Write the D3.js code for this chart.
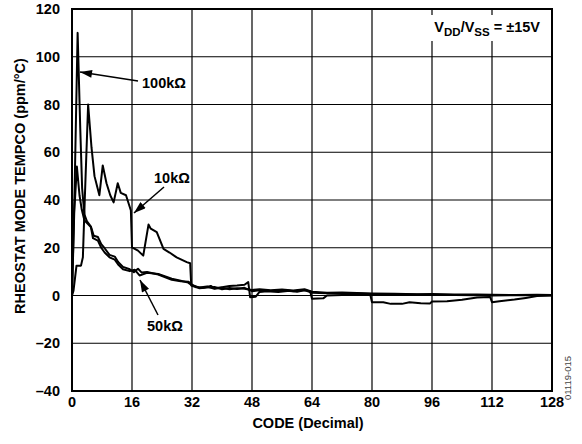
<!DOCTYPE html>
<html>
<head>
<meta charset="utf-8">
<script src="https://cdn.jsdelivr.net/npm/d3@7"></script>
<style>
  body { margin: 0; background: #fff; }
  svg { display: block; font-family: "Liberation Sans", Arial, sans-serif; }
</style>
</head>
<body>
<div id="chart"></div>
<script>
// data: [code, tempco ppm/°C]
const xTicks = [0, 16, 32, 48, 64, 80, 96, 112, 128];
const yTicks = [-40, -20, 0, 20, 40, 60, 80, 100, 120];

const r10k = [[0,0],[0.4,2],[1.2,12.5],[2.4,12.5],[2.9,16],[3.4,40],[4.3,80],[5.2,62],[6.0,50],[7.3,42],[8.2,54.5],[9.2,47],[10.2,42],[11.1,39],[12.2,47],[13,43],[14.4,42],[15.7,35.6],[16,20.2],[17.6,18.8],[19,16.7],[20.4,29.7],[21,28],[22.6,26.5],[24.4,19.5],[26,18],[27.9,16],[30.6,14],[31.5,13.5],[31.8,4.2],[33,3.5],[35,3.2],[37,4],[38,3],[40,3.5],[42,4],[44,4.2],[46,4.5],[47,5.6],[47.5,-0.7],[49,-0.5],[50,1.5],[52,1.8],[55,1.5],[58,2.0],[60,1.6],[62,2.2],[63.5,1.8],[64,-1.4],[67,-1.2],[68,0],[72,0.2],[76,0.4],[79.5,0.6],[80,-2.8],[83,-2.8],[85,-3.5],[88,-3.5],[90,-2.8],[93,-3.2],[95.5,-3.3],[96,-2.5],[100,-2.4],[104,-1.8],[108,-0.8],[111.5,-0.6],[112,-2.8],[114,-2.4],[118,-1.7],[121,-1],[124,-0.2],[128,0]];

const r100k = [[0,0],[0.7,45],[1.5,110],[2.2,70],[2.7,45],[3.3,34],[4,31],[5,29],[5.6,24],[6.9,23],[7.8,20],[8.7,18],[10,16],[11.4,15],[12.3,13],[13.6,11],[15.4,10.2],[16.7,10.8],[18,8.4],[20,9.5],[23,9],[26.6,7],[29,6.2],[31,5.4],[32,4.2],[34,3.4],[36,3.8],[38,2.8],[40,3.2],[42,2.6],[44,3],[46,2.8],[48,2.3],[50,2.6],[53,2.2],[56,2.5],[59,2.1],[62,2.6],[64,1.6],[68,1.2],[72,1.3],[76,1.0],[80,0.8],[86,0.7],[92,0.5],[96,0.6],[102,0.4],[108,0.4],[112,0.3],[118,0.2],[124,0.3],[128,0.2]];

const r50k = [[0,0],[0.6,35],[1.3,54],[2,42],[2.6,36],[3.3,31.5],[4.2,30],[5.1,28.6],[5.8,25],[6.9,24.5],[7.8,21.5],[8.7,19.8],[10,17],[11.4,16.3],[12.3,14],[13.6,12],[15.4,11],[16.5,9.8],[17.6,11.2],[18.6,9.6],[20,9.8],[23,8.8],[26.6,6.6],[29,6],[31,5.8],[32,4.6],[34,3],[36,3.3],[38,3.6],[40,2.6],[42,3.1],[44,2.7],[46,3.2],[48,1.8],[50,2.2],[53,1.9],[56,2.1],[59,1.8],[62,2.3],[64,1.1],[68,0.9],[72,1.0],[76,0.8],[80,0.6],[86,0.5],[92,0.4],[96,0.3],[102,0.2],[108,0.1],[112,0.0],[118,0.1],[124,0.2],[128,0.1]];

const margin = { top: 9, right: 30, bottom: 53, left: 72 };
const W = 582, H = 444;
const width = W - margin.left - margin.right;
const height = H - margin.top - margin.bottom;

const svg = d3.select("#chart").append("svg")
    .attr("width", W).attr("height", H);

svg.append("defs").append("marker")
    .attr("id", "arr")
    .attr("viewBox", "0 0 12 8")
    .attr("refX", 12).attr("refY", 4)
    .attr("markerWidth", 13).attr("markerHeight", 8)
    .attr("markerUnits", "userSpaceOnUse")
    .attr("orient", "auto")
  .append("path").attr("d", "M0,0 L12,4 L0,8 Z").attr("fill", "#000");

const g = svg.append("g").attr("transform", `translate(${margin.left},${margin.top})`);

const x = d3.scaleLinear().domain([0, 128]).range([0, width]);
const y = d3.scaleLinear().domain([-40, 120]).range([height, 0]);

// grid
g.append("g").selectAll("line").data(xTicks).join("line")
    .attr("x1", d => x(d)).attr("x2", d => x(d))
    .attr("y1", 0).attr("y2", height)
    .attr("stroke", "#000").attr("stroke-width", 1.2);
g.append("g").selectAll("line").data(yTicks).join("line")
    .attr("x1", 0).attr("x2", width)
    .attr("y1", d => y(d)).attr("y2", d => y(d))
    .attr("stroke", "#000").attr("stroke-width", 1.2);

// tick labels
g.append("g").selectAll("text").data(yTicks).join("text")
    .attr("x", -12).attr("y", d => y(d)).attr("dy", "0.36em")
    .attr("text-anchor", "end")
    .attr("font-size", 14.5).attr("font-weight", "bold")
    .text(d => d < 0 ? "\u2013" + Math.abs(d) : d);
g.append("g").selectAll("text").data(xTicks).join("text")
    .attr("x", d => x(d)).attr("y", height + 11).attr("dy", "0.36em")
    .attr("text-anchor", "middle")
    .attr("font-size", 14.5).attr("font-weight", "bold")
    .text(d => d);

// axis titles
svg.append("text")
    .attr("x", 308).attr("y", 428)
    .attr("text-anchor", "middle")
    .attr("font-size", 14.5).attr("font-weight", "bold")
    .text("CODE (Decimal)");
svg.append("text")
    .attr("transform", "translate(25,186) rotate(-90)")
    .attr("text-anchor", "middle")
    .attr("font-size", 14.5).attr("font-weight", "bold")
    .text("RHEOSTAT MODE TEMPCO (ppm/°C)");

// supply annotation with white backing
g.append("rect")
    .attr("x", 346).attr("y", 6).attr("width", 126).attr("height", 26)
    .attr("fill", "#fff");
const ann = g.append("text")
    .attr("x", 468).attr("y", 23)
    .attr("text-anchor", "end")
    .attr("font-size", 14.5).attr("font-weight", "bold");
ann.append("tspan").text("V");
ann.append("tspan").attr("font-size", 11.5).attr("dy", 3.5).text("DD");
ann.append("tspan").attr("dy", -3.5).text("/V");
ann.append("tspan").attr("font-size", 11.5).attr("dy", 3.5).text("SS");
ann.append("tspan").attr("dy", -3.5).text(" = \u00b115V");

// curves
const line = d3.line().x(d => x(d[0])).y(d => y(d[1]));
[r10k, r100k, r50k].forEach(s => {
  g.append("path").datum(s)
    .attr("d", line)
    .attr("fill", "none")
    .attr("stroke", "#000")
    .attr("stroke-width", 2)
    .attr("stroke-linejoin", "round");
});

// border
g.append("rect")
    .attr("width", width).attr("height", height)
    .attr("fill", "none").attr("stroke", "#000").attr("stroke-width", 2);

// series callouts
const callouts = [
  { t: "100k\u03a9", tx: 142, ty: 88, x1: 138, y1: 81, x2: 80, y2: 72 },
  { t: "10k\u03a9", tx: 154, ty: 183, x1: 164, y1: 187, x2: 134, y2: 213 },
  { t: "50k\u03a9", tx: 147, ty: 331, x1: 158, y1: 315, x2: 140, y2: 280 }
];
callouts.forEach(c => {
  svg.append("line")
      .attr("x1", c.x1).attr("y1", c.y1).attr("x2", c.x2).attr("y2", c.y2)
      .attr("stroke", "#000").attr("stroke-width", 1.5)
      .attr("marker-end", "url(#arr)");
  svg.append("text")
      .attr("x", c.tx).attr("y", c.ty)
      .attr("font-size", 14.5).attr("font-weight", "bold")
      .text(c.t);
});

// figure id
svg.append("text")
    .attr("transform", "translate(571,378) rotate(-90)")
    .attr("text-anchor", "middle")
    .attr("font-size", 9.5).attr("fill", "#444")
    .text("01119-015");
</script>
</body>
</html>
